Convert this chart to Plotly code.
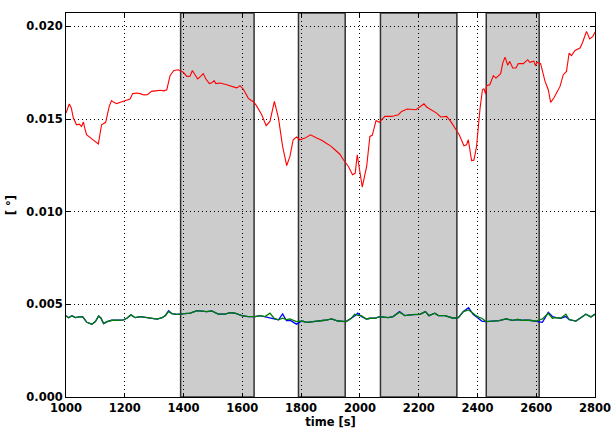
import plotly.graph_objects as go

# Angle signal (red)
red_t = [1000, 1011, 1018, 1025, 1036, 1045, 1053, 1059, 1064, 1070, 1090, 1110, 1121, 1128, 1135,
         1147, 1155, 1163, 1172, 1185, 1195, 1205, 1218, 1227, 1240, 1252, 1265, 1277, 1291, 1305,
         1320, 1333, 1343, 1354, 1367, 1382, 1390, 1399, 1411, 1422, 1430, 1439, 1448, 1458, 1467,
         1476, 1488, 1496, 1504, 1510, 1524, 1547, 1569, 1580, 1586, 1592, 1603, 1609, 1620, 1630,
         1637, 1648, 1666, 1681, 1694, 1709, 1723, 1737, 1751, 1762, 1773, 1785, 1796, 1813, 1832,
         1853, 1870, 1887, 1900, 1915, 1932, 1944, 1961, 1975, 1984, 1991, 2000, 2008, 2023, 2034,
         2042, 2055, 2066, 2085, 2108, 2131, 2142, 2161, 2191, 2202, 2218, 2227, 2244, 2261, 2275,
         2295, 2309, 2324, 2338, 2354, 2363, 2369, 2380, 2388, 2397, 2409, 2417, 2422, 2428, 2431,
         2442, 2454, 2463, 2479, 2486, 2494, 2503, 2510, 2520, 2531, 2539, 2556, 2571, 2578, 2592,
         2597, 2603, 2615, 2630, 2641, 2649, 2660, 2669, 2681, 2692, 2703, 2712, 2720, 2732, 2749,
         2758, 2771, 2782, 2793, 2800]
red_v = [0.01532, 0.01581, 0.01560, 0.01505, 0.01469, 0.01472, 0.01460, 0.01484, 0.01450, 0.01415,
         0.01390, 0.01365, 0.01469, 0.01475, 0.01482, 0.01568, 0.01599, 0.01590, 0.01583, 0.01590,
         0.01595, 0.01598, 0.01608, 0.01637, 0.01640, 0.01637, 0.01630, 0.01631, 0.01649, 0.01652,
         0.01655, 0.01652, 0.01658, 0.01734, 0.01762, 0.01766, 0.01760, 0.01752, 0.01730, 0.01731,
         0.01762, 0.01739, 0.01716, 0.01730, 0.01745, 0.01716, 0.01691, 0.01695, 0.01707, 0.01691,
         0.01694, 0.01685, 0.01676, 0.01668, 0.01673, 0.01680, 0.01662, 0.01644, 0.01613, 0.01600,
         0.01595, 0.01572, 0.01523, 0.01464, 0.01487, 0.01595, 0.01505, 0.01352, 0.01249, 0.01298,
         0.01388, 0.01403, 0.01388, 0.01397, 0.01415, 0.01397, 0.01385, 0.01368, 0.01355, 0.01334,
         0.01310, 0.01280, 0.01244, 0.01199, 0.01207, 0.01307, 0.01207, 0.01133, 0.01244, 0.01406,
         0.01412, 0.01492, 0.01482, 0.01514, 0.01514, 0.01523, 0.01541, 0.01554, 0.01550, 0.01565,
         0.01582, 0.01565, 0.01550, 0.01532, 0.01511, 0.01514, 0.01487, 0.01451, 0.01415, 0.01356,
         0.01361, 0.01388, 0.01276, 0.01278, 0.01352, 0.01559, 0.01658, 0.01663, 0.01634, 0.01680,
         0.01685, 0.01734, 0.01721, 0.01745, 0.01802, 0.01834, 0.01790, 0.01811, 0.01775, 0.01775,
         0.01799, 0.01799, 0.01820, 0.01806, 0.01812, 0.01788, 0.01806, 0.01799, 0.01703, 0.01658,
         0.01590, 0.01613, 0.01640, 0.01676, 0.01739, 0.01757, 0.01856, 0.01842, 0.01870, 0.01883,
         0.01914, 0.01973, 0.01932, 0.01946, 0.01969]

# Lower signals (blue and green) on a shared time base
low_t = [1000, 1009, 1020, 1032, 1049, 1057, 1071, 1088, 1100, 1111, 1119, 1128, 1140, 1156, 1179,
         1196, 1207, 1221, 1236, 1253, 1276, 1293, 1310, 1327, 1338, 1349, 1360, 1377, 1400, 1423,
         1446, 1456, 1478, 1496, 1518, 1541, 1558, 1575, 1598, 1620, 1643, 1660, 1677, 1694, 1708,
         1723, 1737, 1750, 1762, 1784, 1803, 1819, 1853, 1881, 1904, 1925, 1953, 1971, 1982, 1993,
         2005, 2022, 2036, 2051, 2067, 2096, 2113, 2135, 2153, 2170, 2187, 2204, 2223, 2235, 2255,
         2267, 2289, 2318, 2335, 2352, 2370, 2385, 2395, 2406, 2415, 2429, 2451, 2474, 2497, 2520,
         2537, 2554, 2576, 2599, 2621, 2641, 2655, 2668, 2683, 2701, 2712, 2735, 2752, 2769, 2786,
         2800]
green_v = [0.00439, 0.00428, 0.00439, 0.00428, 0.00434, 0.00432, 0.00403, 0.00393, 0.00407, 0.00437,
           0.00425, 0.00396, 0.00407, 0.00414, 0.00414, 0.00416, 0.00425, 0.00443, 0.00428, 0.00434,
           0.00428, 0.00425, 0.00420, 0.00428, 0.00439, 0.00461, 0.00450, 0.00446, 0.00447, 0.00452,
           0.00466, 0.00464, 0.00461, 0.00464, 0.00447, 0.00447, 0.00455, 0.00452, 0.00439, 0.00434,
           0.00434, 0.00439, 0.00434, 0.00452, 0.00425, 0.00416, 0.00425, 0.00418, 0.00421, 0.00407,
           0.00410, 0.00403, 0.00407, 0.00414, 0.00421, 0.00410, 0.00407, 0.00425, 0.00447, 0.00440,
           0.00439, 0.00421, 0.00425, 0.00425, 0.00434, 0.00428, 0.00434, 0.00457, 0.00439, 0.00443,
           0.00446, 0.00446, 0.00461, 0.00439, 0.00452, 0.00439, 0.00439, 0.00425, 0.00428, 0.00461,
           0.00470, 0.00452, 0.00439, 0.00430, 0.00425, 0.00407, 0.00410, 0.00412, 0.00421, 0.00414,
           0.00418, 0.00414, 0.00414, 0.00410, 0.00421, 0.00452, 0.00425, 0.00428, 0.00425, 0.00447,
           0.00418, 0.00410, 0.00428, 0.00447, 0.00432, 0.00447]
blue_v = [0.00439, 0.00428, 0.00439, 0.00428, 0.00434, 0.00432, 0.00403, 0.00393, 0.00407, 0.00437,
          0.00425, 0.00396, 0.00407, 0.00414, 0.00414, 0.00416, 0.00425, 0.00443, 0.00428, 0.00434,
          0.00428, 0.00425, 0.00420, 0.00428, 0.00439, 0.00465, 0.00450, 0.00446, 0.00447, 0.00452,
          0.00466, 0.00464, 0.00461, 0.00464, 0.00447, 0.00447, 0.00455, 0.00452, 0.00439, 0.00434,
          0.00434, 0.00439, 0.00434, 0.00428, 0.00421, 0.00416, 0.00448, 0.00412, 0.00414, 0.00393,
          0.00410, 0.00403, 0.00407, 0.00414, 0.00421, 0.00410, 0.00407, 0.00425, 0.00437, 0.00452,
          0.00434, 0.00421, 0.00425, 0.00425, 0.00434, 0.00428, 0.00434, 0.00461, 0.00439, 0.00443,
          0.00446, 0.00446, 0.00461, 0.00439, 0.00452, 0.00439, 0.00439, 0.00425, 0.00428, 0.00461,
          0.00482, 0.00446, 0.00434, 0.00420, 0.00410, 0.00407, 0.00410, 0.00412, 0.00421, 0.00414,
          0.00418, 0.00414, 0.00414, 0.00410, 0.00403, 0.00457, 0.00434, 0.00428, 0.00425, 0.00434,
          0.00418, 0.00410, 0.00428, 0.00447, 0.00432, 0.00447]

# Shaded intervals (start, end) in seconds
span_start = [1390, 1791, 2070, 2430]
span_end = [1640, 1950, 2330, 2610]

x_ticks = [1000, 1200, 1400, 1600, 1800, 2000, 2200, 2400, 2600, 2800]
y_ticks = [0.000, 0.005, 0.010, 0.015, 0.020]

fig = go.Figure()
fig.add_trace(go.Scatter(x=red_t, y=red_v, mode="lines",
                         line=dict(color="#ff0000", width=1.1), showlegend=False))
fig.add_trace(go.Scatter(x=low_t, y=blue_v, mode="lines",
                         line=dict(color="#0000ff", width=1.3), showlegend=False))
fig.add_trace(go.Scatter(x=low_t, y=green_v, mode="lines",
                         line=dict(color="#008000", width=1.3), showlegend=False))

for s, e in zip(span_start, span_end):
    fig.add_shape(type="rect", xref="x", yref="paper", x0=s, x1=e, y0=0, y1=1,
                  fillcolor="#cccccc", line=dict(color="#333333", width=1.5), layer="below")

font = dict(family="DejaVu Sans", size=11.5, color="black", weight="bold")
dots = "1px,3px"

fig.update_layout(
    width=613, height=431,
    margin=dict(l=66, r=18, t=13, b=34),
    paper_bgcolor="white", plot_bgcolor="white",
    font=font,
)
fig.update_xaxes(
    range=[1000, 2800], tickvals=x_ticks, ticktext=[str(v) for v in x_ticks],
    showline=True, linecolor="black", linewidth=1, mirror="ticks",
    ticks="inside", ticklen=4, tickcolor="black",
    showgrid=True, gridcolor="black", griddash=dots, gridwidth=1,
    zeroline=False, tickfont=font, automargin=False,
    title=dict(text="time [s]", font=font, standoff=4),
)
fig.update_yaxes(
    range=[0, 0.02072], tickvals=y_ticks, ticktext=[f"{v:.3f}" for v in y_ticks],
    showline=True, linecolor="black", linewidth=1, mirror="ticks",
    ticks="inside", ticklen=4, tickcolor="black",
    showgrid=True, gridcolor="black", griddash=dots, gridwidth=1,
    zeroline=False, tickfont=font, automargin=False,
    title=dict(text="[ °]", font=font, standoff=8),
)

fig.write_html("out.html")
